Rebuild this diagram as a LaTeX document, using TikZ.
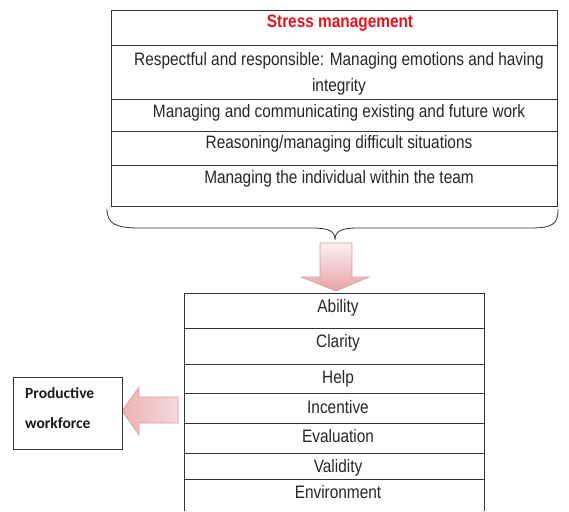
\documentclass[tikz,border=0pt]{standalone}
\usepackage{fontspec}
\setmainfont{Liberation Sans}[FakeStretch=0.855]
\newfontfamily\calib{Carlito}
\definecolor{txt}{HTML}{262626}
\definecolor{ln}{HTML}{333333}
\definecolor{pinkA}{HTML}{FBF1F1}
\definecolor{pinkB}{HTML}{E8A2A5}
\definecolor{pinkE}{HTML}{D99A9D}
\definecolor{redh}{HTML}{E8141C}
\begin{document}
\begin{tikzpicture}[x=1pt,y=-1pt,
  lbl/.style={anchor=base,inner sep=0pt,text=txt,font=\fontsize{18}{27}\selectfont},
  head/.style={anchor=base,inner sep=0pt,text=redh,font=\fontsize{18}{27}\selectfont\bfseries},
  pw/.style={anchor=base west,inner sep=0pt,text=black!90,font=\calib\fontsize{15.5}{20}\selectfont\bfseries},
  frame/.style={draw=ln,line width=0.9pt},
  blockarrow/.style={draw=pinkE,line width=0.6pt,line join=miter}]
\useasboundingbox (0,0) rectangle (569,511);
% top box
\draw[frame] (111,10) rectangle (557,206);
\foreach \yy in {45,99,131,165} \draw[frame] (111,\yy) -- (557,\yy);
\node[head] (t0) at (340,28) {Stress management};
\node[lbl] (t1a) at (339,65) {Respectful and responsible: Managing emotions and having};
\node[lbl] (t1b) at (339,91) {integrity};
\node[lbl] (t2) at (339,117) {Managing and communicating existing and future work};
\node[lbl] (t3) at (339,148) {Reasoning/managing difficult situations};
\node[lbl] (t4) at (339,183) {Managing the individual within the team};
% brace
\draw[ln,line width=0.8pt] (107,209) .. controls (107,224) and (116,228) .. (140,228)
  -- (312,228) .. controls (329,228) and (335,231) .. (335,240)
  .. controls (335,231) and (341,228) .. (358,228)
  -- (530,228) .. controls (553,228) and (558,224) .. (558,209);
% down arrow
\shade[top color=pinkA,bottom color=pinkB,blockarrow]
  (320,243) -- (352,243) -- (352,277) -- (369,277) -- (336,291) -- (301,277) -- (320,277) -- cycle;
% bottom box
\draw[frame] (184,511) -- (184,293) -- (484,293) -- (484,511);
\foreach \yy in {328,364,393,423,453,479} \draw[frame] (184,\yy) -- (484,\yy);
\node[lbl] (b1) at (338,312) {Ability};
\node[lbl] (b2) at (338,347) {Clarity};
\node[lbl] (b3) at (338,383) {Help};
\node[lbl] (b4) at (338,413) {Incentive};
\node[lbl] (b5) at (338,442) {Evaluation};
\node[lbl] (b6) at (338,472) {Validity};
\node[lbl] (b7) at (338,498) {Environment};
% left arrow
\shade[left color=pinkB!80!pinkA,right color=pinkA!70!pinkB,blockarrow]
  (178,397) -- (178,423) -- (139,423) -- (139,435) -- (122,411) -- (139,387) -- (139,397) -- cycle;
% productive workforce
\draw[frame,line width=0.8pt] (13,377) rectangle (122,449);
\node[pw] (p1) at (25,398) {Productive};
\node[pw] (p2) at (25,428) {workforce};
\end{tikzpicture}
\end{document}
